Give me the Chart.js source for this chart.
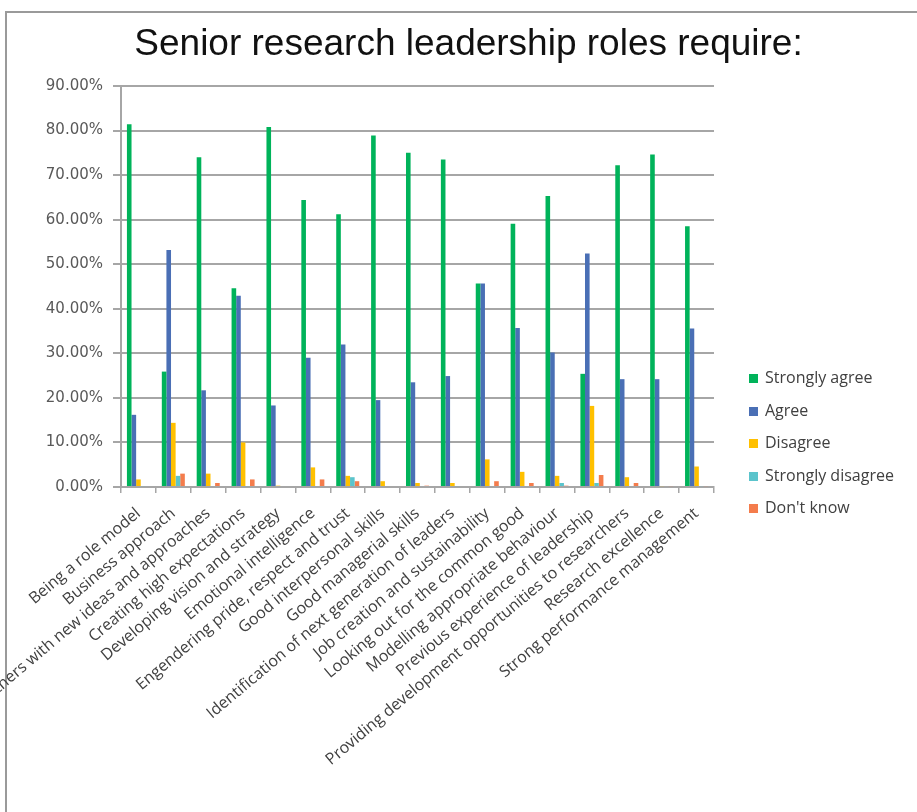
<!DOCTYPE html>
<html>
<head>
<meta charset="utf-8">
<script src="https://cdn.jsdelivr.net/npm/chart.js@4.4.1/dist/chart.umd.min.js"></script>
<style>
  html, body { margin: 0; padding: 0; background: #fff; overflow: hidden; }
  #frame { position: absolute; left: 5px; top: 11px; width: 1000px; height: 1000px;
           border-left: 2px solid #9a9a9a; border-top: 2px solid #9a9a9a; }
  #wrap { position: absolute; left: 0; top: 0; width: 917px; height: 812px; }
  #legend { position: absolute; left: 749px; top: 361px; font-family: "Open Sans", sans-serif;
            font-size: 16px; color: #404040; }
  #legend div { height: 32.5px; line-height: 32.5px; white-space: nowrap; }
  #legend span { display: inline-block; width: 9px; height: 9px; margin-right: 7px; vertical-align: 0px; }
</style>
</head>
<body>
<div id="frame"></div>
<div id="wrap"><canvas id="myChart"></canvas></div>
<div id="legend"></div>
<script>
// dados (percentagens)
var categories = ['Being a role model', 'Business approach', 'Challenging others with new ideas and approaches',
  'Creating high expectations', 'Developing vision and strategy', 'Emotional intelligence',
  'Engendering pride, respect and trust', 'Good interpersonal skills', 'Good managerial skills',
  'Identification of next generation of leaders', 'Job creation and sustainability',
  'Looking out for the common good', 'Modelling appropriate behaviour', 'Previous experience of leadership',
  'Providing development opportunities to researchers', 'Research excellence', 'Strong performance management'];
var seriesNames = ['Strongly agree', 'Agree', 'Disagree', 'Strongly disagree', "Don't know"];
var seriesColors = ['#00b35a', '#4a6fb5', '#ffc000', '#5bc4cc', '#f47c4c'];
var stronglyAgree = [81.4, 25.9, 74.0, 44.6, 80.8, 64.4, 61.2, 78.9, 75.0, 73.5, 45.7, 59.1, 65.3, 25.4, 72.2, 74.6, 58.5];
var agree = [16.2, 53.2, 21.7, 42.9, 18.3, 29.0, 32.0, 19.5, 23.5, 24.9, 45.7, 35.7, 30.2, 52.4, 24.2, 24.2, 35.6];
var disagree = [1.7, 14.4, 3.0, 10.0, 0.3, 4.4, 2.5, 1.3, 0.9, 0.9, 6.2, 3.4, 2.5, 18.2, 2.2, 0.2, 4.6];
var stronglyDisagree = [0.2, 2.5, 0, 0.2, 0, 0, 2.2, 0, 0, 0.2, 0, 0, 0.9, 0.9, 0, 0, 0.2];
var dontKnow = [0, 3.0, 0.9, 1.7, 0, 1.7, 1.3, 0, 0.3, 0, 1.3, 0.9, 0.3, 2.7, 0.9, 0.2, 0.2];
var yTicks = [0, 10, 20, 30, 40, 50, 60, 70, 80, 90];

var allSeries = [stronglyAgree, agree, disagree, stronglyDisagree, dontKnow];
var datasets = [];
for (var i = 0; i < allSeries.length; i++) {
  datasets.push({
    label: seriesNames[i],
    data: allSeries[i],
    backgroundColor: seriesColors[i],
    borderWidth: 0,
    categoryPercentage: 0.66,
    barPercentage: 1.0
  });
}

// legenda em html
var leg = document.getElementById('legend');
for (var j = 0; j < seriesNames.length; j++) {
  var d = document.createElement('div');
  d.innerHTML = '<span style="background:' + seriesColors[j] + '"></span>' + seriesNames[j].replace("'", '&#39;');
  leg.appendChild(d);
}

var gridGrey = '#a6a6a6';

const myChart = new Chart(document.getElementById('myChart'), {
  type: 'bar',
  data: { labels: categories, datasets: datasets },
  options: {
    responsive: true,
    maintainAspectRatio: false,
    animation: false,
    layout: { padding: { left: 20, right: 0, top: 0, bottom: 0 } },
    plugins: {
      legend: { display: false },
      tooltip: { enabled: false },
      title: {
        display: true,
        text: 'Senior research leadership roles require:',
        color: '#111',
        font: { family: 'Liberation Sans', size: 37, weight: 'normal' },
        padding: { top: 23, bottom: 18.6 }
      }
    },
    scales: {
      x: {
        grid: { offset: true, drawOnChartArea: false, tickLength: 6, color: gridGrey, lineWidth: 1.5 },
        border: { color: gridGrey, width: 2 },
        ticks: {
          autoSkip: false, maxRotation: 40, minRotation: 40, padding: 11,
          color: '#404040', font: { family: 'Open Sans', size: 16 }
        },
        afterFit: function (s) { s.height = 325; }
      },
      y: {
        min: 0, max: 90,
        afterBuildTicks: function (s) { s.ticks = yTicks.map(function (v) { return { value: v }; }); },
        grid: { color: gridGrey, lineWidth: 2, tickLength: 8 },
        border: { color: gridGrey, width: 2 },
        ticks: {
          padding: 10, color: '#595959', font: { family: 'DejaVu Sans', size: 15 },
          callback: function (v) { return v.toFixed(2) + '%'; }
        },
        afterFit: function (s) { s.width = 101; }
      },
      // espaco reservado para a legenda
      spacer: {
        type: 'linear', position: 'right', display: true,
        grid: { display: false }, border: { display: false }, ticks: { display: false },
        afterFit: function (s) { s.width = 203; }
      }
    }
  }
});
</script>
</body>
</html>
